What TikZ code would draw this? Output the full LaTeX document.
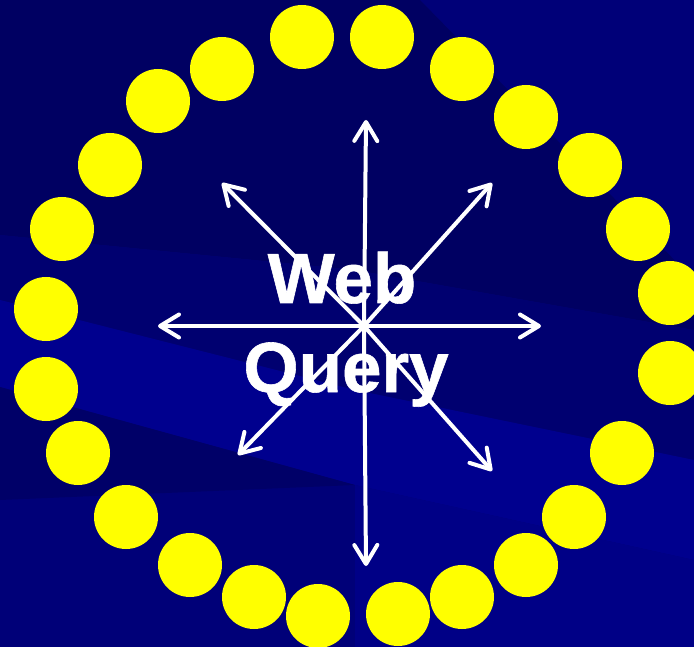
\documentclass[tikz,border=0pt]{standalone}
\usepackage{fontspec}
\usepackage{xcolor}
\usepackage{tikz}
\usetikzlibrary{arrows.meta}
\newfontfamily\wordfont{Liberation Sans}[BoldFeatures={FakeBold=0.8}]
\definecolor{bgbase}{RGB}{0,0,120}
\definecolor{bgdark}{RGB}{0,0,98}
\definecolor{bgmid}{RGB}{0,0,112}
\definecolor{bgbright}{RGB}{0,0,142}
\definecolor{bglow}{RGB}{0,0,104}
\definecolor{bglight}{RGB}{0,0,134}
\definecolor{dotyellow}{RGB}{255,255,0}

\begin{document}
\begin{tikzpicture}[x=1pt, y=-1pt,
  dot/.style={circle, fill=dotyellow, minimum size=64pt, inner sep=0pt},
  ray/.style={white, line width=4pt, -{Straight Barb[length=19pt, width=23pt, round]}},
  word/.style={white, inner sep=0pt, anchor=base, font=\wordfont\bfseries\fontsize{71}{89}\selectfont}
]
\useasboundingbox (0,0) rectangle (694,647);
\clip (0,0) rectangle (694,647);
\fill[bgbase] (0,0) rectangle (694,647);
\fill[bgdark] (0,0) -- (420,0) -- (694,280) -- (694,330) -- (355,270) -- (0,235) -- cycle;
\fill[bgmid] (0,235) -- (355,270) -- (694,330) -- (694,460) -- (355,390) -- (0,300) -- cycle;
\fill[bgbright] (0,300) -- (355,390) -- (694,460) -- (694,560) -- (355,485) -- (0,387) -- cycle;
\fill[bglow] (0,387) -- (355,485) -- (0,500) -- cycle;
\fill[bglight] (355,485) -- (694,560) -- (694,647) -- (355,647) -- cycle;

\node[dot] (d1) at (302,37) {};
\node[dot] (d2) at (382,37) {};
\node[dot] (d3) at (462,69) {};
\node[dot] (d4) at (526,117) {};
\node[dot] (d5) at (590,165) {};
\node[dot] (d6) at (638,229) {};
\node[dot] (d7) at (670,293) {};
\node[dot] (d8) at (670,373) {};
\node[dot] (d9) at (622,453) {};
\node[dot] (d10) at (574,517) {};
\node[dot] (d11) at (526,565) {};
\node[dot] (d12) at (462,597) {};
\node[dot] (d13) at (398,614) {};
\node[dot] (d14) at (318,616) {};
\node[dot] (d15) at (254,597) {};
\node[dot] (d16) at (190,565) {};
\node[dot] (d17) at (126,517) {};
\node[dot] (d18) at (78,453) {};
\node[dot] (d19) at (46,389) {};
\node[dot] (d20) at (46,309) {};
\node[dot] (d21) at (62,229) {};
\node[dot] (d22) at (110,165) {};
\node[dot] (d23) at (158,101) {};
\node[dot] (d24) at (222,69) {};

\coordinate (hub) at (364,326);
\coordinate (tipn) at (366,120);
\coordinate (tipne) at (492,183);
\coordinate (tipe) at (541,326);
\coordinate (tipse) at (492,471);
\coordinate (tips) at (366,566);
\coordinate (tipsw) at (238,455);
\coordinate (tipw) at (158,326);
\coordinate (tipnw) at (222,183);

\draw[ray] (hub) -- (tipn);
\draw[ray] (hub) -- (tipne);
\draw[ray] (hub) -- (tipe);
\draw[ray] (hub) -- (tipse);
\draw[ray] (hub) -- (tips);
\draw[ray] (hub) -- (tipsw);
\draw[ray] (hub) -- (tipw);
\draw[ray] (hub) -- (tipnw);

\node[word] (web) at (342,303) {Web};
\node[word] (query) at (346,392) {Query};
\end{tikzpicture}
\end{document}
